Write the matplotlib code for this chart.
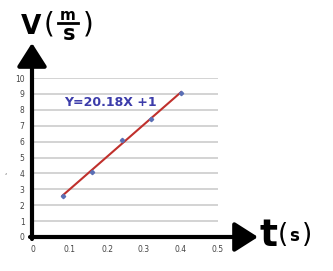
import numpy as np
import matplotlib
matplotlib.use("Agg")
import matplotlib.pyplot as plt
from matplotlib.patches import FancyArrowPatch

# measured points (t in s, v in m/s)
t = [0.08, 0.16, 0.24, 0.32, 0.40]
v = [2.6, 4.1, 6.1, 7.45, 9.05]
xticks = [0, 0.1, 0.2, 0.3, 0.4, 0.5]
yticks = list(range(11))
eq_label = "Y=20.18X +1"

W, H = 333, 271
fig = plt.figure(figsize=(W / 100, H / 100), dpi=100)
ax = fig.add_axes([33 / W, 34 / H, 185 / W, 159 / H])

ax.set_xlim(0, 0.5)
ax.set_ylim(0, 10)
ax.set_xticks(xticks)
ax.set_xticklabels([f"{x:g}" for x in xticks])
ax.set_yticks(yticks)
ax.yaxis.grid(True, color="#c8c8c8", lw=1.1)
ax.set_axisbelow(True)
for s in ax.spines.values():
    s.set_visible(False)
ax.tick_params(length=0, labelsize=5.5, colors="#444444", pad=6)

# fitted line
k, b = np.polyfit(t, v, 1)
tt = np.array([t[0], t[-1]])
ax.plot(tt, k * tt + b, color="#c0302c", lw=1.5, zorder=2)
ax.plot(t, v, "D", color="#5a6fb5", ms=2.2, zorder=3)

ax.text(0.083, 8.45, eq_label, color="#3c3caa", fontsize=9,
        fontweight="bold", va="center")

# thick axis arrows
style = "-|>,head_length=1.1,head_width=0.7"
fig.add_artist(FancyArrowPatch((32, 32), (32, 228), transform=None,
                               arrowstyle=style, mutation_scale=13,
                               color="black", lw=3, shrinkA=0, shrinkB=0))
fig.add_artist(FancyArrowPatch((30, 34), (258, 34), transform=None,
                               arrowstyle=style, mutation_scale=13,
                               color="black", lw=3, shrinkA=0, shrinkB=0))

# axis titles
def fx(px): return px / W
def fy(py): return 1 - py / H

fig.text(fx(31), fy(27), "V", fontsize=19, fontweight="bold", ha="center", va="center")
fig.text(fx(49), fy(25), "(", fontsize=20, ha="center", va="center")
fig.text(fx(68), fy(16), "m", fontsize=11, fontweight="bold", ha="center", va="center")
fig.add_artist(plt.Line2D([fx(58), fx(78)], [fy(23), fy(23)], color="black", lw=2))
fig.text(fx(69), fy(34), "s", fontsize=15, fontweight="bold", ha="center", va="center")
fig.text(fx(88), fy(25), ")", fontsize=20, ha="center", va="center")

fig.text(fx(268), fy(236), "t", fontsize=27, fontweight="bold", ha="center", va="center")
fig.text(fx(283), fy(235), "(", fontsize=19, ha="center", va="center")
fig.text(fx(294), fy(236), "s", fontsize=12, fontweight="bold", ha="center", va="center")
fig.text(fx(307), fy(235), ")", fontsize=19, ha="center", va="center")

fig.text(fx(6), fy(172), ",", fontsize=5, color="#444444", ha="center", va="center")

fig.savefig("out.png", dpi=100)
